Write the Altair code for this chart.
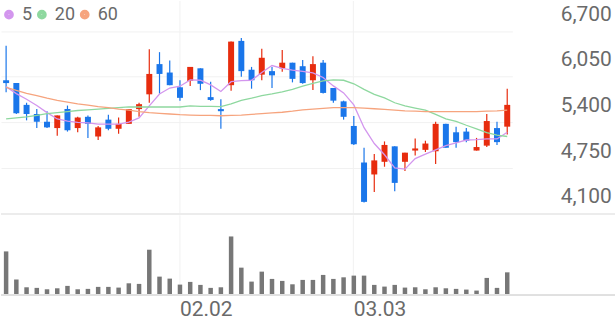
import altair as alt
import pandas as pd

dates = ["01.08", "01.09", "01.12", "01.13", "01.14", "01.15", "01.16", "01.19", "01.20", "01.21",
         "01.22", "01.23", "01.26", "01.27", "01.28", "01.29", "01.30",
         "02.02", "02.03", "02.04", "02.05", "02.06", "02.09", "02.10", "02.11", "02.12", "02.13",
         "02.19", "02.20", "02.23", "02.24", "02.25", "02.26", "02.27",
         "03.03", "03.04", "03.05", "03.06", "03.09", "03.10", "03.11", "03.12", "03.13", "03.16",
         "03.17", "03.18", "03.19", "03.20", "03.23", "03.24"]

opens = [6000, 5960, 5650, 5520, 5410, 5320, 5590, 5320, 5480, 5200, 5440, 5310, 5380, 5590, 5800, 6230, 6110,
         5900, 5990, 6170, 5760, 5590, 5930, 6560, 6150, 6080, 6130, 6170, 6250, 6200, 6000, 6250, 5890, 5700,
         5350, 4830, 4660, 4840, 5060, 4840, 5000, 5010, 4990, 5380, 5260, 5270, 5000, 5070, 5320, 5340]
closes = [5960, 5530, 5520, 5410, 5330, 5500, 5290, 5470, 5380, 5330, 5310, 5380, 5590, 5660, 6090, 6090, 5930,
          5750, 6190, 5950, 5720, 5560, 6550, 6130, 6000, 6320, 6070, 6250, 6020, 5960, 6230, 5820, 5710, 5480,
          5090, 4270, 4860, 5080, 4540, 4970, 5030, 5100, 5380, 5040, 5120, 5140, 5050, 5420, 5120, 5650]
highs = [6490, 5960, 5680, 5590, 5560, 5500, 5640, 5480, 5500, 5350, 5510, 5470, 5590, 5680, 6440, 6400, 6280,
         6000, 6190, 6170, 5980, 5730, 6550, 6600, 6190, 6450, 6190, 6430, 6250, 6290, 6340, 6290, 5890, 5710,
         5490, 5040, 4950, 5130, 5060, 4970, 5170, 5140, 5410, 5380, 5340, 5320, 5180, 5520, 5410, 5880]
lows = [5830, 5520, 5430, 5320, 5320, 5210, 5270, 5260, 5180, 5150, 5290, 5240, 5380, 5480, 5680, 5810, 5930,
        5710, 5920, 5860, 5710, 5310, 5850, 6050, 5880, 6000, 5890, 6120, 5970, 5950, 5860, 5810, 5680, 5440,
        5080, 4260, 4410, 4770, 4420, 4710, 4930, 4980, 4810, 5040, 5040, 5120, 5000, 5050, 5080, 5230]
volumes = [433, 150, 73, 67, 53, 63, 87, 53, 57, 77, 77, 70, 113, 107, 450, 180, 160,
           100, 127, 97, 67, 73, 583, 270, 130, 230, 157, 137, 103, 147, 147, 197, 157, 173,
           190, 190, 97, 80, 97, 70, 73, 53, 73, 63, 57, 50, 40, 167, 67, 223]

ma5 = [5910, 5810, 5730, 5640, 5540, 5450, 5420, 5400, 5395, 5375, 5375, 5375, 5405, 5465, 5635, 5805, 5890,
       5915, 6005, 6000, 5935, 5840, 5980, 5995, 6000, 6110, 6210, 6170, 6145, 6125, 6105, 6040, 5920, 5820,
       5650, 5325, 5100, 4940, 4755, 4735, 4885, 4950, 5010, 5070, 5110, 5150, 5155, 5165, 5165, 5260]
ma20 = [5450, 5465, 5480, 5500, 5525, 5540, 5555, 5570, 5580, 5590, 5600, 5610, 5620, 5620, 5620, 5620, 5620,
        5620, 5635, 5630, 5630, 5625, 5665, 5715, 5745, 5780, 5805, 5835, 5870, 5915, 5955, 5990, 6005, 6000,
        5950, 5870, 5800, 5750, 5680, 5635, 5605, 5575, 5515, 5450, 5415, 5360, 5310, 5255, 5220, 5200]
ma60 = [5900, 5855, 5815, 5780, 5745, 5715, 5690, 5665, 5645, 5625, 5610, 5590, 5575, 5555, 5540, 5530, 5520,
        5510, 5505, 5500, 5500, 5495, 5500, 5505, 5515, 5525, 5535, 5545, 5560, 5580, 5590, 5600, 5610, 5610,
        5610, 5605, 5595, 5585, 5575, 5565, 5560, 5555, 5555, 5555, 5555, 5555, 5555, 5560, 5565, 5575]

ma_names = ["5", "20", "60"]
ma_colors = ["#d396ee", "#8ed89f", "#f6a47e"]
price_ticks = [4100, 4750, 5400, 6050, 6700]
date_ticks = ["02.02", "03.03"]

RED = "#e72c0e"
BLUE = "#1a76ea"
GRID = "#f1f1f1"
FONT = "Roboto"
TXT = "#6a6a6a"

W = 513
H_PRICE = 214
H_VOL = 80

df = pd.DataFrame({"date": dates, "open": opens, "high": highs, "low": lows,
                   "close": closes, "volume": [v * 1000 for v in volumes]})
ma_df = pd.DataFrame({"date": dates * 3,
                      "ma": [ma_names[0]] * len(ma5) + [ma_names[1]] * len(ma20) + [ma_names[2]] * len(ma60),
                      "value": ma5 + ma20 + ma60})

xscale = alt.Scale(paddingInner=0, paddingOuter=0)

x_price = alt.X("date:O", sort=None, scale=xscale,
                axis=alt.Axis(values=date_ticks, labels=False, ticks=False, domain=False, title=None,
                              grid=True, gridColor=GRID, gridWidth=1, bandPosition=0.5))
yscale = alt.Scale(domain=[4100, 7134.5], nice=False, zero=False)
y_axis = alt.Axis(values=price_ticks, labelExpr="format(datum.value, ',')", orient="right", title=None,
                  ticks=False, domain=False, grid=True, gridColor=GRID, labelFontSize=21, labelFont=FONT,
                  labelColor=TXT, labelPadding=48, labelAlign="left", labelBaseline="alphabetic",
                  labelOffset=-11)

candle_color = alt.condition("datum.close >= datum.open", alt.value(RED), alt.value(BLUE))

base = alt.Chart(df)

wicks = base.mark_rule(strokeWidth=1.2).encode(
    x=x_price,
    y=alt.Y("low:Q", scale=yscale, axis=y_axis),
    y2="high:Q",
    color=candle_color,
)
bodies = base.mark_bar(size=6).encode(
    x=x_price,
    y=alt.Y("open:Q", scale=yscale, axis=y_axis),
    y2="close:Q",
    color=candle_color,
)
lines = alt.Chart(ma_df).mark_line(strokeWidth=1.3).encode(
    x=x_price,
    y=alt.Y("value:Q", scale=yscale, axis=y_axis),
    color=alt.Color("ma:N", sort=ma_names,
                    scale=alt.Scale(domain=ma_names, range=ma_colors),
                    legend=alt.Legend(title=None, orient="none", legendX=-1, legendY=5,
                                      direction="horizontal", symbolType="circle", symbolSize=28,
                                      symbolStrokeWidth=4.5, labelFontSize=18, labelFont=FONT,
                                      labelColor=TXT, labelOffset=4, columnPadding=-8,
                                      gridAlign="each", padding=0)),
)
bottom_line = alt.Chart(df).mark_rule(color="#ececec", strokeWidth=1).encode(
    y=alt.Y(datum=4100, scale=yscale, axis=y_axis), x=alt.value(0), x2=alt.value(616)
)

price = alt.layer(wicks, bodies, lines, bottom_line).properties(width=W, height=H_PRICE)

x_vol = alt.X("date:O", sort=None, scale=xscale,
              axis=alt.Axis(values=date_ticks, ticks=False, domain=False, title=None,
                            grid=True, gridColor=GRID, bandPosition=0.5, labelAlign="left",
                            labelFontSize=21, labelFont=FONT, labelColor=TXT, labelPadding=4,
                            labelAngle=0))
vol_bars = alt.Chart(df).mark_bar(size=4.5, color="#777777").encode(
    x=x_vol,
    y=alt.Y("volume:Q", scale=alt.Scale(domain=[0, 800000], nice=False), axis=None),
)
vol_line = alt.Chart(df).mark_rule(color="#e2e2e2", strokeWidth=1).encode(
    y=alt.datum(0), x=alt.value(0), x2=alt.value(616)
)
volume = alt.layer(vol_bars, vol_line).properties(width=W, height=H_VOL)

chart = alt.vconcat(price, volume, spacing=0).properties(
    padding=0, background="white"
).configure_view(stroke=None)

chart.save("out.html", embed_options={"renderer": "svg", "actions": False})
